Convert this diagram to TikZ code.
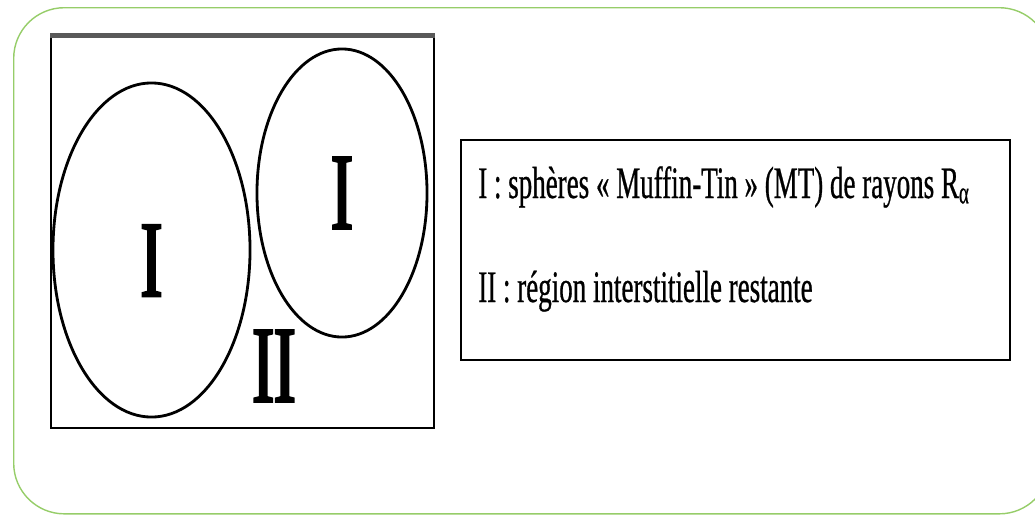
\documentclass[tikz,border=0pt]{standalone}
\usepackage{fontspec}
\setmainfont{Liberation Serif}
\newfontfamily\narrowserif[FakeStretch=0.6,FakeBold=0.6]{Liberation Serif}
\newfontfamily\bigserif[FakeStretch=0.6,FakeBold=2.5]{Liberation Serif}
\usetikzlibrary{shapes.geometric,positioning}
\definecolor{framegreen}{RGB}{150,205,105}

\tikzset{
sphere/.style={draw=black, line width=2pt, ellipse, inner sep=0pt,
  font=\bigserif\fontsize{77}{77}\selectfont},
legendline/.style={anchor=base west, inner sep=0pt,
  font=\narrowserif\fontsize{32}{32}\selectfont}
}

\begin{document}
\begin{tikzpicture}[x=0.025cm, y=-0.025cm]
\useasboundingbox (0,0) rectangle (1035,515);

% ================= OUTER FRAME =================
\node[
draw=framegreen,
line width=1pt,
rounded corners=36pt,
minimum width=25.9cm,
minimum height=12.65cm,
anchor=north west
] (frame) at (13,7) {};

% ================= UNIT CELL =================
\node[
draw=black,
line width=0.9pt,
minimum width=9.575cm,
minimum height=9.8cm
] (cell) at (242.5,232) {};
\draw[gray!70!black, line width=3.5pt] (cell.north west) -- (cell.north east);

% ================= MUFFIN-TIN SPHERES =================
\node[sphere, minimum width=4.925cm, minimum height=8.35cm,
  text height=2.3cm, text depth=0pt] (sphereA) at (151.5,250) {I};
\node[sphere, minimum width=4.25cm, minimum height=7.2cm] (sphereB) at (342,193) {I};

% interstitial region
\node[inner sep=0pt, font=\bigserif\fontsize{77}{77}\selectfont] (inter) at (274,366) {II};

% ================= LEGEND =================
\node[
draw=black,
line width=1pt,
minimum width=13.725cm,
minimum height=5.5cm
] (legend) at (735.5,250) {};

\node[legendline] (lineA) at (478,198)
{I : sphères « Muffin-Tin » (MT) de rayons R\textsubscript{α}};
\node[legendline] (lineB) at (478,302)
{II : région interstitielle restante};

\end{tikzpicture}
\end{document}
